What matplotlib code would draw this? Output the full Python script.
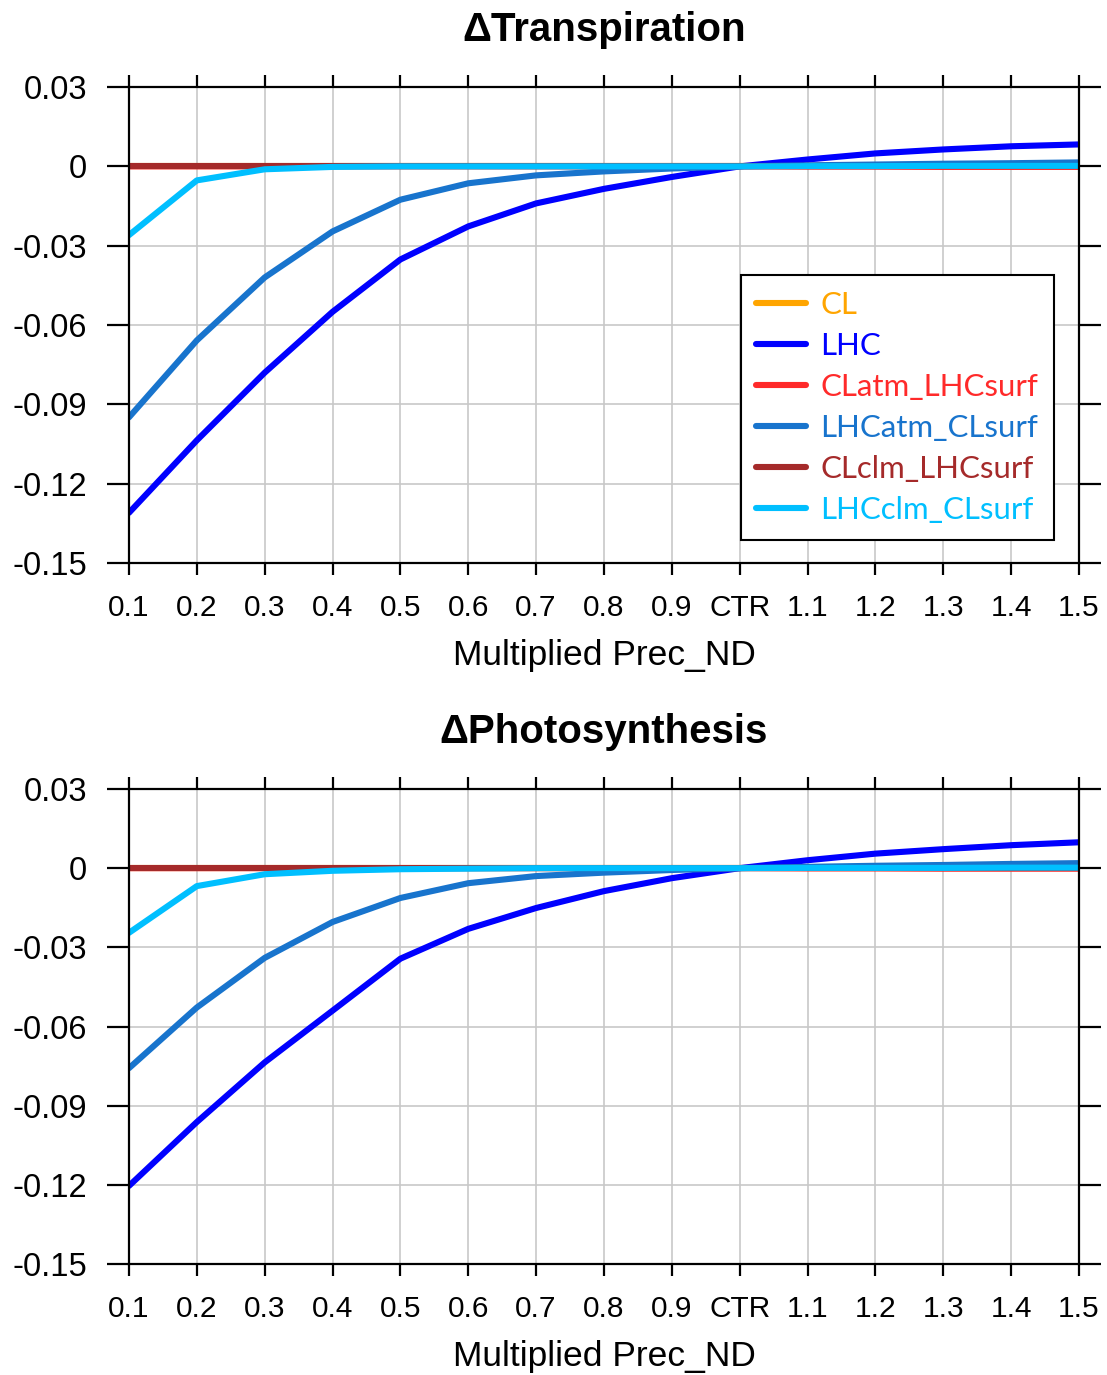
import numpy as np
import matplotlib
matplotlib.use('Agg')
import matplotlib.pyplot as plt

# x axis: multiplier of Prec_ND
x_labels = ['0.1', '0.2', '0.3', '0.4', '0.5', '0.6', '0.7', '0.8', '0.9',
            'CTR', '1.1', '1.2', '1.3', '1.4', '1.5']
y_ticks = [0.03, 0.0, -0.03, -0.06, -0.09, -0.12, -0.15]
y_tick_labels = ['0.03', '0', '-0.03', '-0.06', '-0.09', '-0.12', '-0.15']

names = ['CL', 'LHC', 'CLatm_LHCsurf', 'LHCatm_CLsurf', 'CLclm_LHCsurf', 'LHCclm_CLsurf']
colors = ['#ffa500', '#0000ff', '#ff2a2a', '#1874cd', '#a52a2a', '#00bfff']

# delta transpiration
tr_CL = [0.0] * 15
tr_LHC = [-0.131, -0.1036, -0.078, -0.055, -0.0352, -0.0227, -0.014, -0.0085, -0.004,
          0.0, 0.0026, 0.0049, 0.0064, 0.0076, 0.0083]
tr_CLatm = [0.0, 0.0, 0.0, 0.0, 0.0, 0.0, 0.0, 0.0, 0.0,
            0.0, -0.0001, -0.0001, -0.0002, -0.0002, -0.0002]
tr_LHCatm = [-0.0949, -0.0658, -0.042, -0.0246, -0.0126, -0.0064, -0.0034, -0.0019, -0.0008,
             0.0, 0.0004, 0.0007, 0.001, 0.0012, 0.0015]
tr_CLclm = [0.0] * 15
tr_LHCclm = [-0.026, -0.0053, -0.0011, -0.0002, 0.0, 0.0, 0.0, 0.0, 0.0,
             0.0, 0.0001, 0.0001, 0.0002, 0.0002, 0.0002]

# delta photosynthesis
ps_CL = [0.0] * 15
ps_LHC = [-0.1204, -0.0962, -0.0736, -0.054, -0.0343, -0.023, -0.0151, -0.0087, -0.0038,
          0.0, 0.003, 0.0055, 0.0072, 0.0087, 0.0098]
ps_CLatm = [0.0, 0.0, 0.0, 0.0, 0.0, 0.0, 0.0, 0.0, 0.0,
            0.0, -0.0001, -0.0001, -0.0002, -0.0002, -0.0002]
ps_LHCatm = [-0.0758, -0.0528, -0.034, -0.0204, -0.0113, -0.0057, -0.003, -0.0017, -0.0007,
             0.0, 0.0005, 0.0009, 0.0012, 0.0016, 0.0019]
ps_CLclm = [0.0] * 15
ps_LHCclm = [-0.0245, -0.0068, -0.0023, -0.001, -0.0004, -0.0002, 0.0, 0.0, 0.0,
             0.0, 0.0001, 0.0001, 0.0001, 0.0002, 0.0002]

tr_all = [tr_CL, tr_LHC, tr_CLatm, tr_LHCatm, tr_CLclm, tr_LHCclm]
ps_all = [ps_CL, ps_LHC, ps_CLatm, ps_LHCatm, ps_CLclm, ps_LHCclm]

plt.rcParams['font.family'] = ['Liberation Sans', 'DejaVu Sans']

fig = plt.figure(figsize=(11.07, 13.75), dpi=100)
ax1 = fig.add_axes([0.1165, 0.5905, 0.8582, 0.3462])
ax2 = fig.add_axes([0.1165, 0.0807, 0.8582, 0.3455])

xs = np.arange(len(x_labels))


def draw_panel(ax, series, title, legend=False):
    for vals, name, c in zip(series, names, colors):
        ax.plot(xs, vals, color=c, lw=4.4, label=name, solid_capstyle='round')
    ax.set_xlim(0, 14)
    ax.set_ylim(-0.15, 0.03)
    ax.set_xticks(xs)
    ax.set_xticklabels(x_labels)
    ax.set_yticks(y_ticks)
    ax.set_yticklabels(y_tick_labels)
    ax.grid(True, color='#c8c8c8', lw=1.2)
    ax.set_axisbelow(True)
    for s in ax.spines.values():
        s.set_linewidth(1.6)
        s.set_color('black')
    ax.tick_params(axis='both', direction='out', top=True, right=True,
                   width=1.6, color='black')
    ax.tick_params(axis='y', length=16, pad=14, labelsize=23.5)
    ax.tick_params(axis='x', length=8.5, pad=14, labelsize=21.5)
    ax.set_xlabel('Multiplied Prec_ND', fontsize=25.5, labelpad=12)
    ax.set_title(title, fontsize=29, fontweight='bold', pad=33)
    if legend:
        leg = ax.legend(loc='upper left', bbox_to_anchor=(0.644, 0.605),
                        fancybox=False, framealpha=1, edgecolor='black',
                        prop={'family': ['Lato', 'DejaVu Sans'], 'size': 22.5},
                        handlelength=1.6, handletextpad=0.45, labelspacing=0.42,
                        borderpad=0.5, borderaxespad=0, labelcolor='linecolor')
        leg.get_frame().set_linewidth(1.5)


draw_panel(ax1, tr_all, '\u0394Transpiration', legend=True)
draw_panel(ax2, ps_all, '\u0394Photosynthesis')

fig.savefig('out.png', dpi=100)
